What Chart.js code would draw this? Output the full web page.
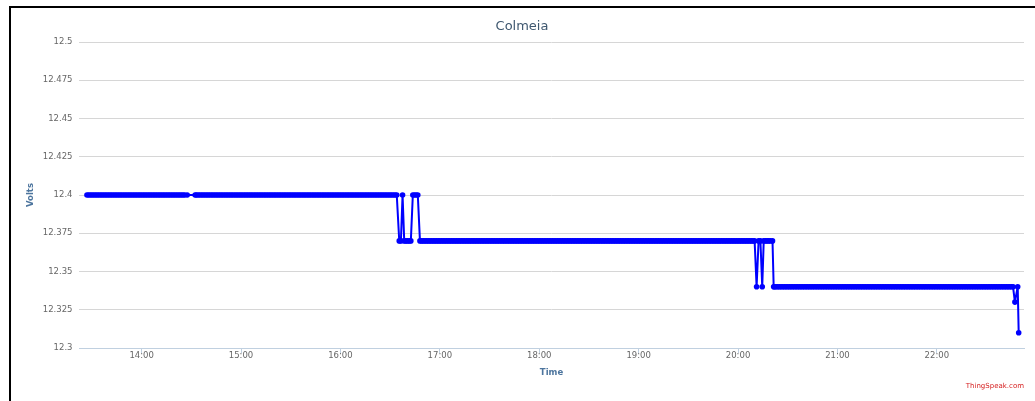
<!DOCTYPE html>
<html>
<head>
<meta charset="utf-8">
<script src="https://cdn.jsdelivr.net/npm/chart.js@4"></script>
<style>
html,body{margin:0;padding:0;background:#fff;overflow:hidden}
#wrap{position:relative;width:1035px;height:401px;background:#fff}
#frame{position:absolute;left:9px;top:6px;right:0;bottom:0;border-top:2px solid #000;border-left:2px solid #000;pointer-events:none}
canvas{position:absolute;left:0;top:0}
</style>
</head>
<body>
<div id="wrap"><canvas id="c" width="1035" height="401"></canvas><div id="frame"></div></div>
<script>
// ---- data (time = minutes since midnight) ----
const chartTitle = 'Colmeia';
const seriesName = 'Volts';
const xTitle = 'Time';
const yTitle = 'Volts';
const credit = 'ThingSpeak.com';

const xTickLabels = ['14:00','15:00','16:00','17:00','18:00','19:00','20:00','21:00','22:00'];
const yTickLabels = ['12.3','12.325','12.35','12.375','12.4','12.425','12.45','12.475','12.5'];
const xRange = [802.2, 1372.6];
const yRange = [12.3, 12.5];

const minutes = [
  // 13:27 - 14:27
  807,808,809,810,811,812,813,814,815,816,
  817,818,819,820,821,822,823,824,825,826,
  827,828,829,830,831,832,833,834,835,836,
  837,838,839,840,841,842,843,844,845,846,
  847,848,849,850,851,852,853,854,855,856,
  857,858,859,860,861,862,863,864,865,866,
  867.5,
  // 14:32 - 16:34
  872.3,873,874,875,876,877,878,879,880,881,
  882,883,884,885,886,887,888,889,890,891,
  892,893,894,895,896,897,898,899,900,901,
  902,903,904,905,906,907,908,909,910,911,
  912,913,914,915,916,917,918,919,920,921,
  922,923,924,925,926,927,928,929,930,931,
  932,933,934,935,936,937,938,939,940,941,
  942,943,944,945,946,947,948,949,950,951,
  952,953,954,955,956,957,958,959,960,961,
  962,963,964,965,966,967,968,969,970,971,
  972,973,974,975,976,977,978,979,980,981,
  982,983,984,985,986,987,988,989,990,991,
  992,993,994,
  // flicker around 16:35 - 16:49
  995.5,996.5,997.5,998.5,999.5,1000.5,1001.5,1002.5,1003.7,1004.7,
  1005.7,1006.7,1008,1009,
  // 16:50 - 20:10
  1010,1011,1012,1013,1014,1015,1016,1017,1018,1019,
  1020,1021,1022,1023,1024,1025,1026,1027,1028,1029,
  1030,1031,1032,1033,1034,1035,1036,1037,1038,1039,
  1040,1041,1042,1043,1044,1045,1046,1047,1048,1049,
  1050,1051,1052,1053,1054,1055,1056,1057,1058,1059,
  1060,1061,1062,1063,1064,1065,1066,1067,1068,1069,
  1070,1071,1072,1073,1074,1075,1076,1077,1078,1079,
  1080,1081,1082,1083,1084,1085,1086,1087,1088,1089,
  1090,1091,1092,1093,1094,1095,1096,1097,1098,1099,
  1100,1101,1102,1103,1104,1105,1106,1107,1108,1109,
  1110,1111,1112,1113,1114,1115,1116,1117,1118,1119,
  1120,1121,1122,1123,1124,1125,1126,1127,1128,1129,
  1130,1131,1132,1133,1134,1135,1136,1137,1138,1139,
  1140,1141,1142,1143,1144,1145,1146,1147,1148,1149,
  1150,1151,1152,1153,1154,1155,1156,1157,1158,1159,
  1160,1161,1162,1163,1164,1165,1166,1167,1168,1169,
  1170,1171,1172,1173,1174,1175,1176,1177,1178,1179,
  1180,1181,1182,1183,1184,1185,1186,1187,1188,1189,
  1190,1191,1192,1193,1194,1195,1196,1197,1198,1199,
  1200,1201,1202,1203,1204,1205,1206,1207,1208,1209,
  1210,
  // flicker around 20:11 - 20:21
  1211.2,1212.4,1213.5,1214.6,1215.5,1216.5,1217.5,1218.5,1219.5,1220.8,
  1221.5,
  // 20:22 - 22:46
  1222,1223,1224,1225,1226,1227,1228,1229,1230,1231,
  1232,1233,1234,1235,1236,1237,1238,1239,1240,1241,
  1242,1243,1244,1245,1246,1247,1248,1249,1250,1251,
  1252,1253,1254,1255,1256,1257,1258,1259,1260,1261,
  1262,1263,1264,1265,1266,1267,1268,1269,1270,1271,
  1272,1273,1274,1275,1276,1277,1278,1279,1280,1281,
  1282,1283,1284,1285,1286,1287,1288,1289,1290,1291,
  1292,1293,1294,1295,1296,1297,1298,1299,1300,1301,
  1302,1303,1304,1305,1306,1307,1308,1309,1310,1311,
  1312,1313,1314,1315,1316,1317,1318,1319,1320,1321,
  1322,1323,1324,1325,1326,1327,1328,1329,1330,1331,
  1332,1333,1334,1335,1336,1337,1338,1339,1340,1341,
  1342,1343,1344,1345,1346,1347,1348,1349,1350,1351,
  1352,1353,1354,1355,1356,1357,1358,1359,1360,1361,
  1362,1363,1364,1365,1366,
  // final drop
  1367.1,1368.8,1369.4
];

const volts = [
  // 13:27 - 14:27
  12.4,12.4,12.4,12.4,12.4,12.4,12.4,12.4,12.4,12.4,
  12.4,12.4,12.4,12.4,12.4,12.4,12.4,12.4,12.4,12.4,
  12.4,12.4,12.4,12.4,12.4,12.4,12.4,12.4,12.4,12.4,
  12.4,12.4,12.4,12.4,12.4,12.4,12.4,12.4,12.4,12.4,
  12.4,12.4,12.4,12.4,12.4,12.4,12.4,12.4,12.4,12.4,
  12.4,12.4,12.4,12.4,12.4,12.4,12.4,12.4,12.4,12.4,
  12.4,
  // 14:32 - 16:34
  12.4,12.4,12.4,12.4,12.4,12.4,12.4,12.4,12.4,12.4,
  12.4,12.4,12.4,12.4,12.4,12.4,12.4,12.4,12.4,12.4,
  12.4,12.4,12.4,12.4,12.4,12.4,12.4,12.4,12.4,12.4,
  12.4,12.4,12.4,12.4,12.4,12.4,12.4,12.4,12.4,12.4,
  12.4,12.4,12.4,12.4,12.4,12.4,12.4,12.4,12.4,12.4,
  12.4,12.4,12.4,12.4,12.4,12.4,12.4,12.4,12.4,12.4,
  12.4,12.4,12.4,12.4,12.4,12.4,12.4,12.4,12.4,12.4,
  12.4,12.4,12.4,12.4,12.4,12.4,12.4,12.4,12.4,12.4,
  12.4,12.4,12.4,12.4,12.4,12.4,12.4,12.4,12.4,12.4,
  12.4,12.4,12.4,12.4,12.4,12.4,12.4,12.4,12.4,12.4,
  12.4,12.4,12.4,12.4,12.4,12.4,12.4,12.4,12.4,12.4,
  12.4,12.4,12.4,12.4,12.4,12.4,12.4,12.4,12.4,12.4,
  12.4,12.4,12.4,
  // flicker around 16:35 - 16:49
  12.37,12.37,12.4,12.37,12.37,12.37,12.37,12.37,12.4,12.4,
  12.4,12.4,12.37,12.37,
  // 16:50 - 20:10
  12.37,12.37,12.37,12.37,12.37,12.37,12.37,12.37,12.37,12.37,
  12.37,12.37,12.37,12.37,12.37,12.37,12.37,12.37,12.37,12.37,
  12.37,12.37,12.37,12.37,12.37,12.37,12.37,12.37,12.37,12.37,
  12.37,12.37,12.37,12.37,12.37,12.37,12.37,12.37,12.37,12.37,
  12.37,12.37,12.37,12.37,12.37,12.37,12.37,12.37,12.37,12.37,
  12.37,12.37,12.37,12.37,12.37,12.37,12.37,12.37,12.37,12.37,
  12.37,12.37,12.37,12.37,12.37,12.37,12.37,12.37,12.37,12.37,
  12.37,12.37,12.37,12.37,12.37,12.37,12.37,12.37,12.37,12.37,
  12.37,12.37,12.37,12.37,12.37,12.37,12.37,12.37,12.37,12.37,
  12.37,12.37,12.37,12.37,12.37,12.37,12.37,12.37,12.37,12.37,
  12.37,12.37,12.37,12.37,12.37,12.37,12.37,12.37,12.37,12.37,
  12.37,12.37,12.37,12.37,12.37,12.37,12.37,12.37,12.37,12.37,
  12.37,12.37,12.37,12.37,12.37,12.37,12.37,12.37,12.37,12.37,
  12.37,12.37,12.37,12.37,12.37,12.37,12.37,12.37,12.37,12.37,
  12.37,12.37,12.37,12.37,12.37,12.37,12.37,12.37,12.37,12.37,
  12.37,12.37,12.37,12.37,12.37,12.37,12.37,12.37,12.37,12.37,
  12.37,12.37,12.37,12.37,12.37,12.37,12.37,12.37,12.37,12.37,
  12.37,12.37,12.37,12.37,12.37,12.37,12.37,12.37,12.37,12.37,
  12.37,12.37,12.37,12.37,12.37,12.37,12.37,12.37,12.37,12.37,
  12.37,12.37,12.37,12.37,12.37,12.37,12.37,12.37,12.37,12.37,
  12.37,
  // flicker around 20:11 - 20:21
  12.34,12.37,12.37,12.34,12.37,12.37,12.37,12.37,12.37,12.37,
  12.34,
  // 20:22 - 22:46
  12.34,12.34,12.34,12.34,12.34,12.34,12.34,12.34,12.34,12.34,
  12.34,12.34,12.34,12.34,12.34,12.34,12.34,12.34,12.34,12.34,
  12.34,12.34,12.34,12.34,12.34,12.34,12.34,12.34,12.34,12.34,
  12.34,12.34,12.34,12.34,12.34,12.34,12.34,12.34,12.34,12.34,
  12.34,12.34,12.34,12.34,12.34,12.34,12.34,12.34,12.34,12.34,
  12.34,12.34,12.34,12.34,12.34,12.34,12.34,12.34,12.34,12.34,
  12.34,12.34,12.34,12.34,12.34,12.34,12.34,12.34,12.34,12.34,
  12.34,12.34,12.34,12.34,12.34,12.34,12.34,12.34,12.34,12.34,
  12.34,12.34,12.34,12.34,12.34,12.34,12.34,12.34,12.34,12.34,
  12.34,12.34,12.34,12.34,12.34,12.34,12.34,12.34,12.34,12.34,
  12.34,12.34,12.34,12.34,12.34,12.34,12.34,12.34,12.34,12.34,
  12.34,12.34,12.34,12.34,12.34,12.34,12.34,12.34,12.34,12.34,
  12.34,12.34,12.34,12.34,12.34,12.34,12.34,12.34,12.34,12.34,
  12.34,12.34,12.34,12.34,12.34,12.34,12.34,12.34,12.34,12.34,
  12.34,12.34,12.34,12.34,12.34,
  // final drop
  12.33,12.34,12.31
];

// ---- helpers ----
function hhmmToMin(s){ const p = s.split(':'); return (+p[0])*60 + (+p[1]); }
function minToHHMM(m){ const h = Math.floor(m/60), mm = Math.round(m - h*60); return String(h).padStart(2,'0') + ':' + String(mm).padStart(2,'0'); }
const xTickValues = xTickLabels.map(hhmmToMin);
const yTickValues = yTickLabels.map(Number);
const points = minutes.map((t, i) => ({x: t, y: volts[i]}));
if (minutes.length !== volts.length) console.error('length mismatch', minutes.length, volts.length);

const FONT = '"DejaVu Sans", "Lucida Grande", Verdana, sans-serif';

new Chart(document.getElementById('c'), {
  type: 'line',
  data: {
    datasets: [{
      label: seriesName,
      data: points,
      borderColor: '#0000ff',
      backgroundColor: '#0000ff',
      borderWidth: 2,
      borderJoinStyle: 'round',
      borderCapStyle: 'round',
      pointRadius: 2.8,
      pointBorderWidth: 0,
      pointBackgroundColor: '#0000ff',
      tension: 0,
      fill: false
    }]
  },
  options: {
    responsive: false,
    animation: false,
    devicePixelRatio: 1,
    layout: { padding: { left: 20, right: 11, top: 0, bottom: 0 } },
    plugins: {
      legend: { display: false },
      tooltip: { enabled: false },
      title: {
        display: true,
        text: chartTitle,
        color: '#3E576F',
        font: { family: FONT, size: 13, weight: 'normal', lineHeight: 1.2 },
        padding: { top: 18.7, bottom: 7.7 }
      },
      subtitle: {
        display: true,
        position: 'bottom',
        align: 'end',
        text: credit,
        color: '#d62020',
        font: { family: FONT, size: 7, weight: 'normal', lineHeight: 1.2 },
        padding: { top: 2, bottom: 10.8 }
      }
    },
    scales: {
      x: {
        type: 'linear',
        position: 'bottom',
        min: xRange[0],
        max: xRange[1],
        afterBuildTicks: (s) => { s.ticks = xTickValues.map(v => ({value: v})); },
        afterFit: (s) => { s.height = 31.8; },
        grid: { display: true, drawOnChartArea: false, drawTicks: true, tickLength: 5, color: '#C0D0E0', lineWidth: 1 },
        border: { display: true, color: '#C0D0E0', width: 1 },
        ticks: {
          autoSkip: false,
          maxRotation: 0,
          padding: -2,
          color: '#666666',
          font: { family: FONT, size: 8.5, lineHeight: 1.2 },
          callback: (v) => minToHHMM(v)
        },
        title: {
          display: true,
          text: xTitle,
          color: '#4d759e',
          font: { family: FONT, size: 8.5, weight: 'bold', lineHeight: 1.2 },
          padding: { top: 0, bottom: 2 }
        }
      },
      y: {
        type: 'linear',
        position: 'left',
        min: yRange[0],
        max: yRange[1],
        afterBuildTicks: (s) => { s.ticks = yTickValues.map(v => ({value: v})); },
        afterFit: (s) => { s.width = 59; },
        grid: {
          drawTicks: false,
          lineWidth: 1,
          color: (ctx) => (ctx.tick && ctx.tick.value === yRange[0]) ? 'rgba(0,0,0,0)' : '#d6d6d6'
        },
        border: { display: false },
        ticks: {
          autoSkip: false,
          padding: 6.5,
          color: '#666666',
          font: { family: FONT, size: 8.5, lineHeight: 1.2 },
          callback: (v, i) => yTickLabels[i]
        },
        title: {
          display: true,
          text: yTitle,
          color: '#4d759e',
          font: { family: FONT, size: 8.5, weight: 'bold', lineHeight: 1.2 },
          padding: { top: 5.9, bottom: 0 }
        }
      }
    }
  }
});
</script>
</body>
</html>
